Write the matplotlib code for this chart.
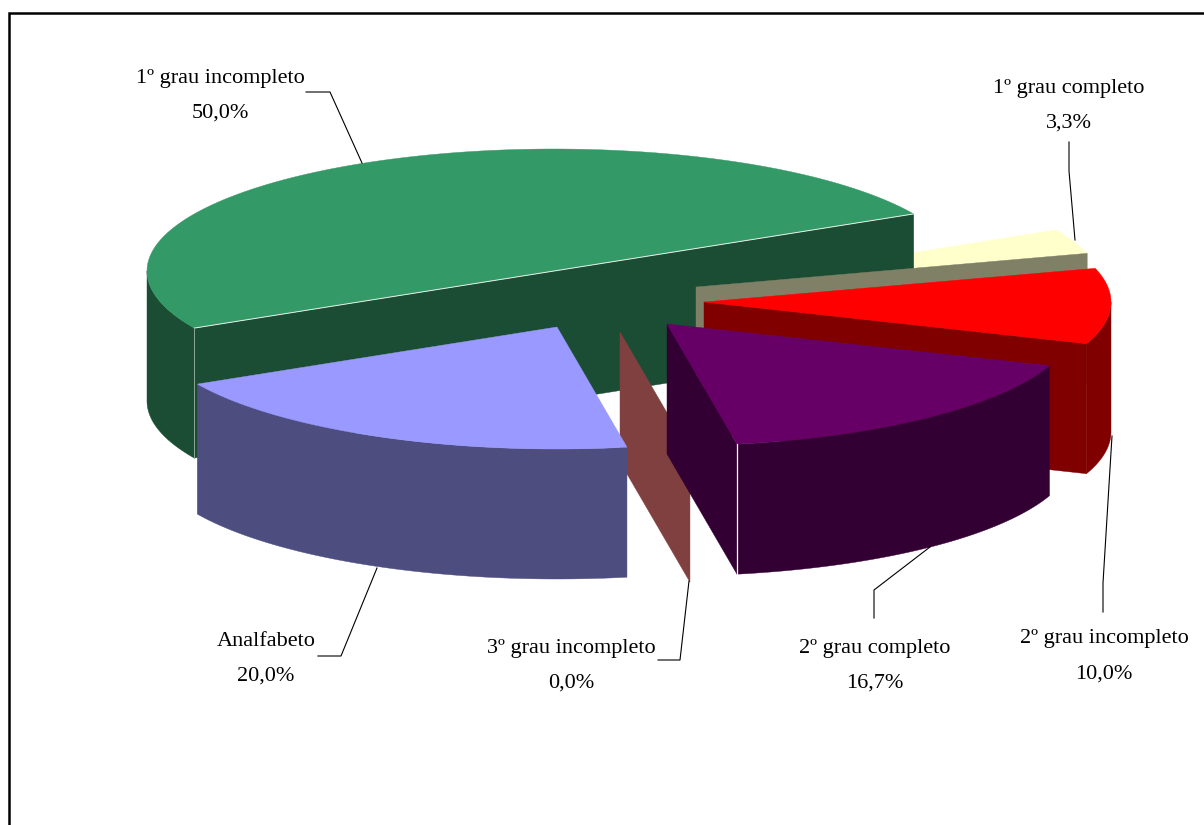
import numpy as np
import matplotlib
matplotlib.use('Agg')
import matplotlib.pyplot as plt
from matplotlib.patches import Polygon

plt.rcParams['font.family'] = ['Liberation Serif', 'DejaVu Serif']

# Chart data
categories = ['1º grau incompleto', 'Analfabeto', '3º grau incompleto',
              '2º grau completo', '2º grau incompleto', '1º grau completo']
values = [50.0, 20.0, 0.0, 16.7, 10.0, 3.3]

# Slice styles
top_colors = ['#339966', '#9999FF', '#FF8080', '#660066', '#FF0000', '#FFFFCC']
side_colors = ['#1A4D33', '#4D4D80', '#804040', '#330033', '#800000', '#808066']
layers = [2, 7, 5, 6, 4, 3]
top_layers = [2, 7, 5, 6, 4, 1]  # cream top sits behind the green face, as in the original

# Pie geometry in pixels
CX, CY = 554, 271
RX, RY = 407, 122
DEPTH = 130
START_ANGLE = 27.9
offsets_x = [0, 3, 66, 113, 150, 142]
offsets_y = [0, 56, 61, 53, 31, 16]

# Label placement
label_x = [220, 266, 571, 875, 1104, 1069]
label_y = [78, 641, 648, 648, 639, 88]
LINE_GAP = 35
leaders = [
    [(306, 92), (330, 92), (362, 163)],
    [(318, 656), (341, 656), (377, 568)],
    [(658, 660), (680, 660), (689, 581)],
    [(874, 618), (874, 590), (930, 547)],
    [(1103, 612), (1103, 583), (1112, 436)],
    [(1069, 142), (1069, 171), (1075, 240)],
]


def arc(t1, t2, cx, cy):
    t = np.radians(np.linspace(t1, t2, 200))
    return np.column_stack([cx + RX * np.cos(t), cy - RY * np.sin(t)])


def rim(t, cx, cy):
    a = np.radians(t)
    return np.array([cx + RX * np.cos(a), cy - RY * np.sin(a)])


def add_poly(ax, pts, color, z):
    ax.add_patch(Polygon(pts, closed=True, facecolor=color, edgecolor=color, lw=0.3, zorder=z))


def draw_face(ax, t, cx, cy, color, z):
    p = rim(t, cx, cy)
    add_poly(ax, [(cx, cy), p, p + (0, DEPTH), (cx, cy + DEPTH)], color, z)


def draw_slice(ax, t1, t2, cx, cy, top, side, z, top_z):
    # cut faces: only the ones turned towards the viewer
    if np.cos(np.radians(t1)) > 0:
        draw_face(ax, t1, cx, cy, side, z)
    if np.cos(np.radians(t2)) < 0:
        draw_face(ax, t2, cx, cy, side, z)
    # outer wall, front half of the ellipse only
    a1, a2 = max(t1, 180), min(t2, 360)
    if a2 > a1:
        upper = arc(a1, a2, cx, cy)
        lower = upper[::-1] + (0, DEPTH)
        add_poly(ax, np.vstack([upper, lower]), side, z)
    if t2 > t1:
        add_poly(ax, np.vstack([[(cx, cy)], arc(t1, t2, cx, cy)]), top, top_z)


def main():
    fig = plt.figure(figsize=(12.04, 8.25), dpi=100)
    ax = fig.add_axes([0, 0, 1, 1])
    ax.set_xlim(0, 1204)
    ax.set_ylim(825, 0)
    ax.axis('off')

    # frame, only top and left fall inside the picture
    ax.plot([9, 9, 1204], [825, 13, 13], color='black', lw=1.8, solid_joinstyle='miter', zorder=9)

    bounds = []
    angle = START_ANGLE
    for i, v in enumerate(values):
        t1 = angle
        t2 = angle + v * 3.6
        cx, cy = CX + offsets_x[i], CY + offsets_y[i]
        draw_slice(ax, t1, t2, cx, cy, top_colors[i], side_colors[i], layers[i], top_layers[i])
        bounds.append((t1, t2, cx, cy))
        angle = t2

    # thin light edges
    t1, t2, cx, cy = bounds[0]
    p, q = rim(t1, cx, cy), rim(t2, cx, cy)
    ax.plot([q[0], p[0]], [q[1], p[1]], color='#E8F0EA', lw=0.7, zorder=2.5)
    ax.plot([q[0], q[0]], [q[1], q[1] + DEPTH], color='#8FA698', lw=0.7, zorder=2.5)
    t1, t2, cx, cy = bounds[3]
    p = rim(t1, cx, cy)
    ax.plot([p[0], p[0]], [p[1], p[1] + DEPTH], color='white', lw=0.9, zorder=6.5)

    for i, name in enumerate(categories):
        pct = f'{values[i]:.1f}'.replace('.', ',') + '%'
        ax.text(label_x[i], label_y[i], name, fontsize=16, ha='center', va='center', color='black', zorder=10)
        ax.text(label_x[i], label_y[i] + LINE_GAP, pct, fontsize=16, ha='center', va='center', color='black', zorder=10)
        xs, ys = zip(*leaders[i])
        ax.plot(xs, ys, color='black', lw=0.8, zorder=8)

    fig.savefig('out.png', dpi=100)


if __name__ == "__main__":
    main()
